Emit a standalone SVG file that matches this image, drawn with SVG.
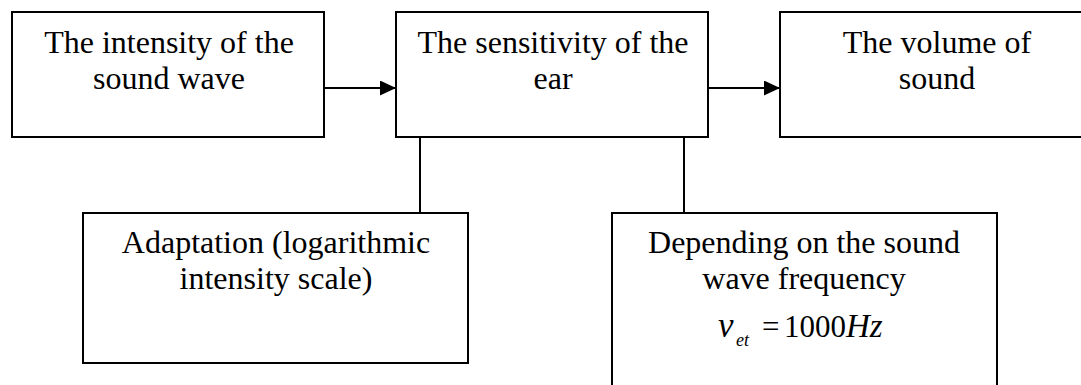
<svg xmlns="http://www.w3.org/2000/svg" width="1081" height="385" viewBox="0 0 1081 385">
<style>
.box{fill:#fff;stroke:#000;stroke-width:2}
.t{font-size:32px;fill:#000;text-anchor:middle}
.m{fill:#000}
.c{stroke:#000;stroke-width:2;fill:none}
</style>
<defs>
<marker id="arr" markerUnits="userSpaceOnUse" markerWidth="16" markerHeight="16" refX="16" refY="7.5" orient="auto">
<path d="M0,0 L16,7.5 L0,15 z" fill="#000"/>
</marker>
</defs>
<g id="connectors">
<line class="c" x1="324" y1="88" x2="396" y2="88" marker-end="url(#arr)"/>
<line class="c" x1="708" y1="88" x2="780" y2="88" marker-end="url(#arr)"/>
<line class="c" x1="420" y1="137" x2="420" y2="213"/>
<line class="c" x1="684" y1="137" x2="684" y2="213"/>
</g>
<g font-family="'Times New Roman', 'Liberation Serif', 'DejaVu Serif', serif">
<g id="intensity">
<rect class="box" x="12" y="12" width="312" height="125"/>
<text class="t" x="169" y="53">The intensity of the</text>
<text class="t" x="169" y="89">sound wave</text>
</g>
<g id="sensitivity">
<rect class="box" x="396" y="12" width="312" height="125"/>
<text class="t" x="553" y="53">The sensitivity of the</text>
<text class="t" x="553" y="89">ear</text>
</g>
<g id="volume">
<rect class="box" x="780" y="12" width="320" height="125"/>
<text class="t" x="937" y="53">The volume of</text>
<text class="t" x="937" y="89">sound</text>
</g>
<g id="adaptation">
<rect class="box" x="83" y="213" width="385" height="150"/>
<text class="t" x="276" y="253">Adaptation (logarithmic</text>
<text class="t" x="276" y="289">intensity scale)</text>
</g>
<g id="frequency">
<rect class="box" x="612" y="213" width="385" height="190"/>
<text class="t" x="804" y="253">Depending on the sound</text>
<text class="t" x="804" y="289">wave frequency</text>
<text class="m" y="337" font-size="31"><tspan x="718" font-size="35" font-style="italic">ν</tspan><tspan x="736" y="346" font-size="18" font-style="italic">et</tspan><tspan x="762" y="337">=</tspan><tspan x="784">1000</tspan><tspan font-style="italic" font-size="33">Hz</tspan></text>
</g>
</g>
</svg>
